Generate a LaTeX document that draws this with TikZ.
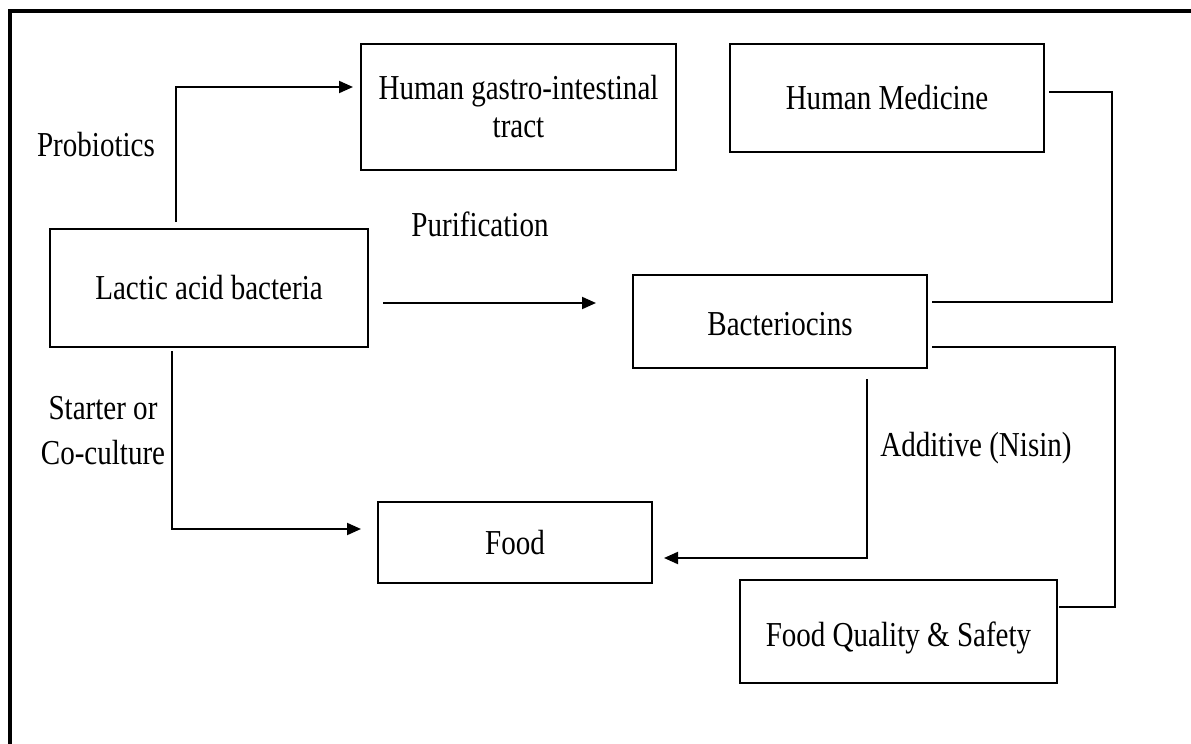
\documentclass[tikz,border=0pt]{standalone}
\usepackage{fontspec}
\setmainfont{Liberation Serif}[FakeStretch=0.83]
\usetikzlibrary{arrows.meta,calc}
% shift box content down without changing its size
\newcommand{\lowered}[2]{\raisebox{-#1}[\height][\depth]{#2}}
\begin{document}
\begin{tikzpicture}[x=0.5pt,y=-0.5pt,
  box/.style={draw=black,line width=1pt,inner sep=0pt,align=center,
    font=\fontsize{17.5}{19}\selectfont},
  lbl/.style={inner sep=0pt,align=center,
    font=\fontsize{17.5}{22.5}\selectfont},
  link/.style={draw=black,line width=1pt},
  arr/.style={link,-{Triangle[length=7pt,width=6pt]}}]
\useasboundingbox (0,0) rectangle (1191,744);
% frame (top and left edges only)
\draw[line width=2pt] (10,744) -- (10,11) -- (1191,11);

% boxes
\node[box,minimum width=157.5pt,minimum height=63pt] (gi) at (518.5,107)
  {\lowered{2pt}{\begin{tabular}{@{}c@{}}Human gastro-intestinal\\tract\end{tabular}}};
\node[box,minimum width=157pt,minimum height=54pt] (med) at (887,98)
  {Human Medicine};
\node[box,minimum width=159pt,minimum height=59pt] (lab) at (209,288)
  {Lactic acid bacteria};
\node[box,minimum width=147pt,minimum height=46.5pt] (bac) at (780,321.5)
  {\lowered{1.5pt}{Bacteriocins}};
\node[box,minimum width=137pt,minimum height=40.5pt] (food) at (515,542.5)
  {Food};
\node[box,minimum width=158.5pt,minimum height=51.5pt] (fqs) at (898.5,631.5)
  {\lowered{3pt}{Food Quality \& Safety}};

% labels
\node[lbl] (lprob) at (96,145) {Probiotics};
\node[lbl] (lpur) at (480,224) {Purification};
\node[lbl] (lstart) at (103,431) {Starter or\\Co-culture};
\node[lbl] (ladd) at (976,448) {Additive (Nisin)};

% connector end points
\coordinate (p0) at ($(lab.north west)+(127,-6)$);
\coordinate (p1) at ($(gi.north west)+(-7,44)$);
\coordinate (q0) at ($(lab.east)+(14,15)$);
\coordinate (q1) at ($(bac.west)+(-36,-18.5)$);
\coordinate (s0) at ($(lab.south west)+(123,3)$);
\coordinate (s1) at ($(food.west)+(-16,-13.5)$);
\coordinate (a0) at ($(bac.south west)+(235,10)$);
\coordinate (a1) at ($(food.east)+(11,15.5)$);
\coordinate (m0) at ($(med.east)+(4,-6)$);
\coordinate (m1) at ($(bac.east)+(4,-19.5)$);
\coordinate (mc) at ($(m1)+(180,0)$);
\coordinate (f0) at ($(bac.east)+(4,25.5)$);
\coordinate (f1) at ($(fqs.east)+(1,-24.5)$);
\coordinate (fc) at ($(f1)+(56,0)$);

% connectors
\draw[arr] (p0) |- (p1);
\draw[arr] (q0) -- (q1);
\draw[arr] (s0) |- (s1);
\draw[arr] (a0) |- (a1);
\draw[link] (m0) -| (mc) -- (m1);
\draw[link] (f0) -| (fc) -- (f1);
\end{tikzpicture}
\end{document}
